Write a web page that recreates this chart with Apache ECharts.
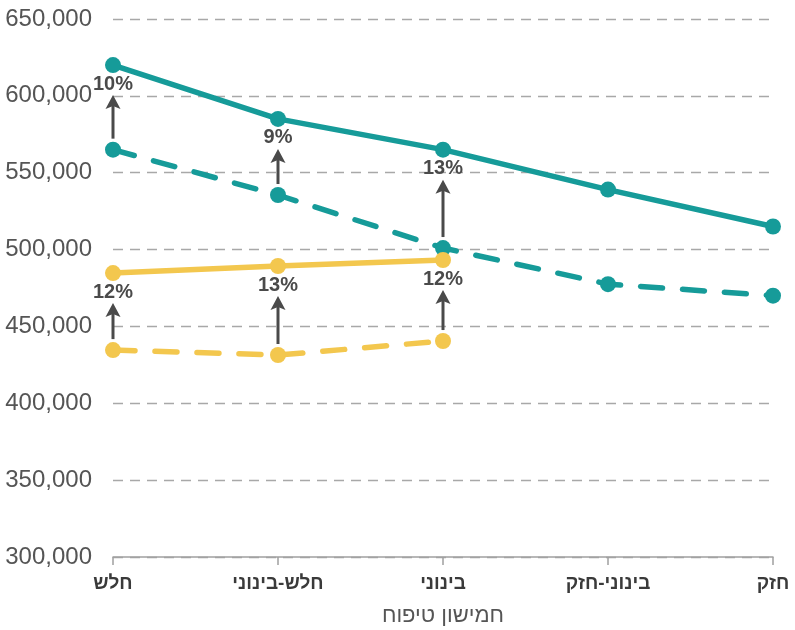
<!DOCTYPE html>
<html>
<head>
<meta charset="utf-8">
<script src="https://cdn.jsdelivr.net/npm/echarts@6/dist/echarts.min.js"></script>
<style>
html,body{margin:0;padding:0;background:#fff;}
#chart{width:795px;height:630px;}
</style>
</head>
<body>
<div id="chart"></div>
<script>
const categories = ['חלש', 'חלש-בינוני', 'בינוני', 'בינוני-חזק', 'חזק'];
const tealSolid = [620000, 585000, 565000, 539000, 515000];
const tealDashed = [565000, 535500, 501000, 477500, 470000];
const yellowSolid = [484700, 489300, 493200];
const yellowDashed = [434600, 431400, 440500];
const tealPct = ['10%', '9%', '13%'];
const yellowPct = ['12%', '13%', '12%'];
const axisTitle = 'חמישון טיפוח';

const TEAL = '#169b99';
const YELLOW = '#f3c74e';
const ARROW = '#4a4a4a';
const FONT = '"Liberation Sans", Arial, "DejaVu Sans", sans-serif';

function arrowSeries(lower, upper, labels) {
  const data = labels.map((_, i) => [i, lower[i], upper[i]]);
  return {
    type: 'custom',
    z: 1,
    silent: true,
    data: data,
    renderItem: function (params, api) {
      const lo = api.coord([api.value(0), api.value(1)]);
      const hi = api.coord([api.value(0), api.value(2)]);
      const x = lo[0];
      const bottom = lo[1] - 11;
      const tip = hi[1] + 30;
      return {
        type: 'group',
        children: [
          { type: 'line', shape: { x1: x, y1: bottom, x2: x, y2: tip + 8 },
            style: { stroke: ARROW, lineWidth: 3 } },
          { type: 'polygon', shape: { points: [[x, tip], [x - 7.5, tip + 14], [x, tip + 11], [x + 7.5, tip + 14]] },
            style: { fill: ARROW } },
          { type: 'text', style: { text: labels[params.dataIndex], x: x, y: hi[1] + 19,
            align: 'center', verticalAlign: 'middle',
            font: 'bold 20px ' + FONT, fill: ARROW } }
        ]
      };
    }
  };
}

function lineSeries(data, color, dashed) {
  return {
    type: 'line',
    z: 3,
    data: data,
    symbol: 'circle',
    symbolSize: 16,
    itemStyle: { color: color },
    lineStyle: { color: color, width: 5.5, type: dashed ? [22, 20] : 'solid', cap: 'round' },
    silent: true,
    animation: false
  };
}

const chart = echarts.init(document.getElementById('chart'));
chart.setOption({
  animation: false,
  backgroundColor: '#fff',
  grid: { left: 113, right: 22, top: 19, bottom: 73, containLabel: false, outerBoundsMode: 'none' },
  xAxis: {
    type: 'category',
    data: categories,
    boundaryGap: false,
    axisLine: { lineStyle: { color: '#a0a0a0', width: 1.5 } },
    axisTick: { show: true, length: 8, lineStyle: { color: '#a0a0a0', width: 1.5 } },
    axisLabel: { color: '#3a3a3a', fontFamily: FONT, fontSize: 19, fontWeight: 'bold', margin: 17 },
    name: axisTitle,
    nameLocation: 'middle',
    nameGap: 48,
    nameTextStyle: { color: '#555', fontFamily: FONT, fontSize: 22 }
  },
  yAxis: {
    type: 'value',
    min: 300000,
    max: 650000,
    interval: 50000,
    axisLine: { show: false },
    axisTick: { show: false },
    axisLabel: {
      color: '#555', fontFamily: FONT, fontSize: 24, margin: 21,
      formatter: v => v.toLocaleString('en-US')
    },
    splitLine: { lineStyle: { color: '#a8a8a8', width: 1.3, type: [10, 7] } }
  },
  series: [
    arrowSeries(tealDashed, tealSolid, tealPct),
    arrowSeries(yellowDashed, yellowSolid, yellowPct),
    lineSeries(tealDashed, TEAL, true),
    lineSeries(tealSolid, TEAL, false),
    lineSeries(yellowDashed, YELLOW, true),
    lineSeries(yellowSolid, YELLOW, false)
  ]
});
</script>
</body>
</html>
